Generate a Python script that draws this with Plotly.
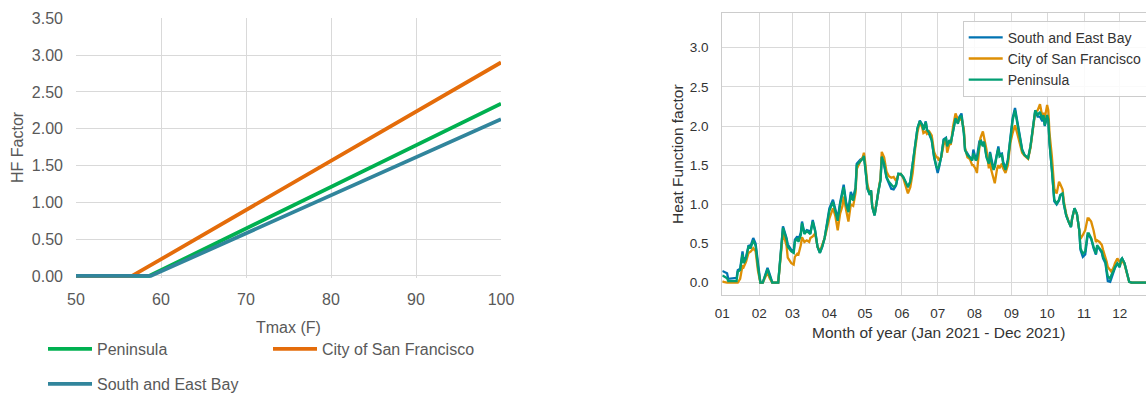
import pandas as pd
import plotly.graph_objects as go

# ---- HF factor response curves (piecewise linear in Tmax) ----
peninsula_tmax = [50, 58.6, 100]
peninsula_hf = [0.0, 0.0, 2.34]
sf_tmax = [50, 56.6, 100]
sf_hf = [0.0, 0.0, 2.90]
seb_tmax = [50, 58.8, 100]
seb_hf = [0.0, 0.0, 2.13]

# ---- Heat function factor through 2021 (days after Jan 1) ----
day_offset = [
    0, 1, 4, 5, 12, 13, 15, 17, 18, 20, 22, 24, 26, 28, 30, 32, 34, 37, 38, 40,
    42, 47, 48, 51, 54, 55, 58, 60, 61, 63, 64, 66, 67, 69, 71, 73, 74, 76, 78, 80,
    82, 84, 86, 89, 90, 93, 95, 97, 99, 101, 102, 104, 106, 108, 110, 112, 113, 116, 118, 119,
    120, 122, 124, 125, 126, 128, 130, 131, 133, 134, 136, 138, 140, 142, 144, 146, 148, 150, 152, 154,
    156, 158, 160, 162, 164, 166, 168, 169, 171, 172, 174, 176, 178, 180, 181, 182, 184, 186, 188, 189,
    191, 192, 194, 196, 198, 199, 201, 203, 204, 206, 208, 210, 211, 213, 214, 216, 217, 219, 220, 222,
    224, 225, 226, 228, 229, 231, 232, 233, 235, 236, 238, 240, 242, 244, 246, 248, 250, 252, 254, 257,
    259, 261, 263, 265, 267, 269, 270, 271, 273, 274, 275, 277, 279, 281, 283, 284, 286, 287, 289, 291,
    293, 294, 296, 298, 300, 301, 303, 305, 307, 308, 310, 312, 314, 315, 317, 319, 320, 322, 323, 324,
    326, 327, 329, 330, 332, 334, 335, 336, 338, 340, 342, 344, 364,
]
peninsula_factor = [
    0.09, 0.085, 0.055, 0.02, 0.02, 0.14, 0.16, 0.36, 0.25, 0.31, 0.46, 0.45, 0.54, 0.47, 0.20, 0.0, 0.0, 0.15, 0.17, 0.08,
    0.0, 0.0, 0.20, 0.70, 0.55, 0.46, 0.40, 0.38, 0.52, 0.57, 0.52, 0.61, 0.76, 0.62, 0.66, 0.64, 0.62, 0.78, 0.66, 0.46,
    0.38, 0.46, 0.57, 0.83, 0.92, 1.03, 0.92, 0.79, 1.00, 1.13, 1.22, 1.00, 0.90, 1.12, 1.05, 1.20, 1.50, 1.55, 1.58, 1.62,
    1.50, 1.20, 1.12, 1.18, 0.97, 0.86, 1.05, 1.16, 1.31, 1.61, 1.52, 1.35, 1.29, 1.25, 1.22, 1.25, 1.39, 1.39, 1.35, 1.29,
    1.22, 1.29, 1.52, 1.78, 1.97, 2.06, 2.01, 1.95, 2.05, 1.95, 1.91, 1.82, 1.61, 1.48, 1.46, 1.48, 1.61, 1.82, 1.84, 1.74,
    1.82, 1.78, 1.95, 2.10, 2.03, 2.10, 2.13, 1.91, 1.69, 1.63, 1.60, 1.56, 1.65, 1.56, 1.58, 1.78, 1.82, 1.74, 1.80, 1.60,
    1.52, 1.65, 1.56, 1.44, 1.48, 1.65, 1.71, 1.61, 1.63, 1.52, 1.44, 1.56, 1.86, 2.07, 2.20, 2.03, 1.82, 1.69, 1.63, 1.59,
    1.74, 1.97, 2.20, 2.14, 2.18, 2.08, 2.14, 2.01, 2.14, 2.08, 1.78, 1.44, 1.06, 1.01, 1.06, 1.12, 1.14, 1.01, 0.86, 0.78,
    0.71, 0.82, 0.95, 0.88, 0.67, 0.44, 0.37, 0.40, 0.63, 0.63, 0.57, 0.46, 0.37, 0.48, 0.44, 0.40, 0.33, 0.27, 0.16, 0.08,
    0.05, 0.10, 0.16, 0.20, 0.25, 0.20, 0.29, 0.31, 0.25, 0.12, 0.01, 0.0, 0.0,
]
seb_factor = [
    0.15, 0.14, 0.12, 0.05, 0.06, 0.16, 0.18, 0.40, 0.27, 0.33, 0.47, 0.48, 0.57, 0.50, 0.22, 0.0, 0.0, 0.17, 0.19, 0.10,
    0.0, 0.0, 0.20, 0.72, 0.57, 0.49, 0.42, 0.40, 0.55, 0.59, 0.55, 0.64, 0.78, 0.63, 0.67, 0.66, 0.63, 0.80, 0.67, 0.46,
    0.38, 0.46, 0.57, 0.85, 0.95, 1.06, 0.95, 0.82, 1.02, 1.15, 1.25, 1.03, 0.92, 1.16, 1.08, 1.22, 1.52, 1.57, 1.59, 1.60,
    1.50, 1.20, 1.12, 1.18, 0.97, 0.86, 1.05, 1.16, 1.32, 1.60, 1.50, 1.34, 1.27, 1.20, 1.19, 1.24, 1.39, 1.38, 1.35, 1.29,
    1.22, 1.29, 1.52, 1.78, 1.97, 2.07, 2.02, 1.95, 2.06, 1.96, 1.90, 1.82, 1.60, 1.45, 1.40, 1.46, 1.61, 1.83, 1.85, 1.74,
    1.82, 1.78, 1.96, 2.10, 2.04, 2.11, 2.16, 1.92, 1.70, 1.64, 1.60, 1.57, 1.70, 1.58, 1.60, 1.80, 1.83, 1.75, 1.80, 1.62,
    1.55, 1.67, 1.58, 1.45, 1.50, 1.68, 1.74, 1.64, 1.65, 1.55, 1.45, 1.57, 1.88, 2.10, 2.23, 2.05, 1.83, 1.70, 1.63, 1.59,
    1.74, 1.98, 2.20, 2.12, 2.12, 2.06, 2.12, 2.00, 2.12, 2.07, 1.78, 1.44, 1.04, 1.00, 1.05, 1.11, 1.14, 1.00, 0.86, 0.78,
    0.71, 0.82, 0.95, 0.88, 0.67, 0.42, 0.33, 0.36, 0.60, 0.61, 0.56, 0.44, 0.36, 0.46, 0.43, 0.38, 0.31, 0.25, 0.13, 0.02,
    0.01, 0.06, 0.14, 0.19, 0.24, 0.20, 0.29, 0.31, 0.25, 0.12, 0.01, 0.0, 0.0,
]
sf_factor = [
    0.02, 0.01, 0.0, 0.0, 0.0, 0.0, 0.05, 0.22, 0.20, 0.27, 0.38, 0.40, 0.44, 0.40, 0.15, 0.0, 0.0, 0.10, 0.13, 0.05,
    0.0, 0.0, 0.18, 0.64, 0.47, 0.32, 0.25, 0.23, 0.33, 0.37, 0.36, 0.48, 0.58, 0.52, 0.54, 0.52, 0.57, 0.59, 0.63, 0.46,
    0.40, 0.48, 0.57, 0.76, 0.82, 0.95, 0.85, 0.67, 0.88, 0.98, 1.10, 0.93, 0.78, 1.00, 0.98, 1.15, 1.45, 1.55, 1.60, 1.66,
    1.55, 1.25, 1.14, 1.17, 0.98, 0.87, 1.04, 1.15, 1.34, 1.67, 1.60, 1.42, 1.36, 1.34, 1.35, 1.30, 1.38, 1.39, 1.34, 1.24,
    1.14, 1.22, 1.40, 1.70, 1.92, 2.05, 1.98, 1.91, 1.93, 1.90, 1.93, 1.88, 1.67, 1.60, 1.60, 1.56, 1.60, 1.76, 1.82, 1.66,
    1.78, 1.76, 2.00, 2.16, 2.08, 2.07, 2.10, 1.96, 1.72, 1.60, 1.58, 1.50, 1.50, 1.45, 1.40, 1.72, 1.85, 1.93, 1.85, 1.70,
    1.46, 1.58, 1.44, 1.31, 1.27, 1.46, 1.50, 1.46, 1.52, 1.46, 1.40, 1.50, 1.78, 1.91, 2.01, 1.90, 1.78, 1.66, 1.62, 1.58,
    1.72, 1.95, 2.18, 2.20, 2.28, 2.12, 2.17, 2.10, 2.27, 2.20, 1.91, 1.61, 1.20, 1.14, 1.29, 1.26, 1.19, 1.04, 0.88, 0.78,
    0.72, 0.82, 0.94, 0.88, 0.67, 0.56, 0.61, 0.67, 0.82, 0.82, 0.78, 0.67, 0.52, 0.54, 0.52, 0.48, 0.42, 0.33, 0.27, 0.20,
    0.16, 0.14, 0.20, 0.25, 0.31, 0.25, 0.24, 0.29, 0.24, 0.12, 0.01, 0.0, 0.0,
]

dates = pd.Timestamp("2021-01-01") + pd.to_timedelta(day_offset, unit="D")

W, H = 1146, 395
FONT = "Liberation Sans, Arial, sans-serif"
EXCEL_GREY = "#595959"
GRID = "#D9D9D9"


def px_x(p):
    return p / W


def px_y(p):
    return 1 - p / H


fig = go.Figure()

# Left panel: HF factor vs Tmax
fig.add_trace(go.Scatter(x=peninsula_tmax, y=peninsula_hf, mode="lines", name="Peninsula",
                         line=dict(color="#00B050", width=3.75), xaxis="x", yaxis="y", legend="legend"))
fig.add_trace(go.Scatter(x=sf_tmax, y=sf_hf, mode="lines", name="City of San Francisco",
                         line=dict(color="#E46C0A", width=3.75), xaxis="x", yaxis="y", legend="legend"))
fig.add_trace(go.Scatter(x=seb_tmax, y=seb_hf, mode="lines", name="South and East Bay",
                         line=dict(color="#31859C", width=3.75), xaxis="x", yaxis="y", legend="legend3"))

# Right panel: daily factor over the year
fig.add_trace(go.Scatter(x=dates, y=seb_factor, mode="lines", name="South and East Bay",
                         line=dict(color="#0173B2", width=2.3), xaxis="x2", yaxis="y2", legend="legend2"))
fig.add_trace(go.Scatter(x=dates, y=sf_factor, mode="lines", name="City of San Francisco",
                         line=dict(color="#DE8F05", width=2.3), xaxis="x2", yaxis="y2", legend="legend2"))
fig.add_trace(go.Scatter(x=dates, y=peninsula_factor, mode="lines", name="Peninsula",
                         line=dict(color="#029E73", width=2.3), xaxis="x2", yaxis="y2", legend="legend2"))

left_font = dict(family=FONT, size=16, color=EXCEL_GREY)
tick_font = dict(family=FONT, size=13.5, color="#333333")
legend_font = dict(family=FONT, size=14, color="#333333")
label_font = dict(family=FONT, size=15.5, color="#333333")

fig.update_layout(
    width=W, height=H,
    margin=dict(l=0, r=0, t=0, b=0, autoexpand=False),
    paper_bgcolor="white", plot_bgcolor="white",
    showlegend=True,
    xaxis=dict(domain=[px_x(76), px_x(501)], range=[50, 100], dtick=10, tick0=50,
               showgrid=True, gridcolor=GRID, gridwidth=1.3, zeroline=False, showline=False,
               ticks="", tickfont=left_font, ticklabelstandoff=10, anchor="y"),
    yaxis=dict(domain=[px_y(278.2), px_y(18.3)], range=[-0.03, 3.5],
               tickvals=[0, 0.5, 1, 1.5, 2, 2.5, 3, 3.5], tickformat=".2f",
               showgrid=True, gridcolor=GRID, gridwidth=1.3, zeroline=False, showline=False,
               ticks="", tickfont=left_font, ticklabelstandoff=12, anchor="x"),
    xaxis2=dict(domain=[px_x(722.3), 1.0], range=["2021-01-01", "2021-12-23 02:00"],
                dtick="M1", tick0="2021-01-01", tickformat="%m",
                showgrid=True, gridcolor=GRID, gridwidth=1.3, zeroline=False,
                showline=True, linecolor="#CCCCCC", linewidth=1.3, mirror=True,
                ticks="", tickfont=tick_font, ticklabelstandoff=6, anchor="y2"),
    yaxis2=dict(domain=[px_y(295), px_y(13.3)], range=[-0.157, 3.439],
                tickvals=[0, 0.5, 1, 1.5, 2, 2.5, 3], tickformat=".1f",
                showgrid=True, gridcolor=GRID, gridwidth=1.3, zeroline=False,
                showline=True, linecolor="#CCCCCC", linewidth=1.3, mirror=False,
                ticks="", tickfont=tick_font, ticklabelstandoff=10, anchor="x2"),
    legend=dict(orientation="h", x=px_x(43), y=px_y(349), xanchor="left", yanchor="middle",
                entrywidth=166, entrywidthmode="pixels", itemwidth=44,
                font=left_font, bgcolor="rgba(0,0,0,0)", borderwidth=0),
    legend3=dict(orientation="h", x=px_x(43), y=px_y(384), xanchor="left", yanchor="middle",
                 itemwidth=44, font=left_font, bgcolor="rgba(0,0,0,0)", borderwidth=0),
    legend2=dict(orientation="v", x=px_x(962.7), y=px_y(20.7), xanchor="left", yanchor="top",
                 itemwidth=34, font=legend_font, bgcolor="rgba(255,255,255,0.85)",
                 bordercolor="#CCCCCC", borderwidth=1),
    annotations=[
        dict(text="HF Factor", x=px_x(17), y=px_y(147), xref="paper", yref="paper",
             textangle=-90, showarrow=False, font=left_font, xanchor="center", yanchor="middle"),
        dict(text="Tmax (F)", x=px_x(288), y=px_y(327), xref="paper", yref="paper",
             showarrow=False, font=left_font, xanchor="center", yanchor="middle"),
        dict(text="Heat Function factor", x=px_x(677), y=px_y(154), xref="paper", yref="paper",
             textangle=-90, showarrow=False, font=label_font, xanchor="center", yanchor="middle"),
        dict(text="Month of year (Jan 2021 - Dec 2021)", x=px_x(939), y=px_y(332),
             xref="paper", yref="paper", showarrow=False, font=label_font,
             xanchor="center", yanchor="middle"),
    ],
)

fig.write_html("out.html")
